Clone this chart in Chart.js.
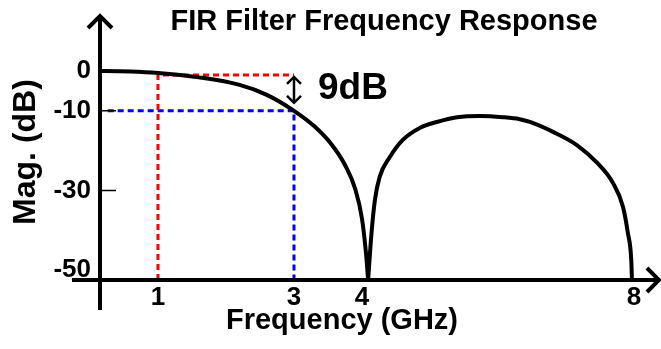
<!DOCTYPE html>
<html>
<head>
<meta charset="utf-8">
<script src="https://cdn.jsdelivr.net/npm/chart.js@4/dist/chart.umd.min.js"></script>
<style>
  html, body { margin: 0; padding: 0; background: #fff; }
</style>
</head>
<body>
<canvas id="fir" width="661" height="349"></canvas>
<script>
// main lobe, DC down to the first null
const mainFreq = [0, 0.59, 1.0, 1.6, 2.2, 2.6, 3.0, 3.3, 3.55, 3.75, 3.9, 4.0, 4.06, 4.09];
const mainDb = [0, -0.13, -0.5, -1.6, -3.5, -6.0, -10, -13.9, -18.4, -23.6, -29.6, -37.1, -46.0, -52.5];

// second lobe between the nulls
const sideFreq = [4.09, 4.14, 4.19, 4.26, 4.41, 4.60, 4.85, 5.10, 5.40, 5.74, 6.07, 6.32, 6.47, 6.81, 7.16, 7.46, 7.69, 7.84, 7.91, 7.96, 7.97];
const sideDb = [-52.5, -40.7, -32.4, -26.6, -21.6, -17.3, -14.3, -12.8, -11.6, -11.3, -11.6, -12.1, -12.8, -15.3, -18.6, -23.1, -28.1, -34.2, -40.7, -47.5, -52.5];

// dashed guides: loss at 1 GHz (red) and at 3 GHz (blue)
const refFreq = [1, 1, 3];
const refDb = [-52.5, -1, -1];
const cutFreq = [0.26, 3, 3];
const cutDb = [-10, -10, -52.5];

const xTicks = [1, 3, 4, 8];
const yTicks = [0, -10, -30, -50];
const markedTicks = [-10, -30];

const FONT = '"Liberation Sans", Arial, sans-serif';

const pts = (xs, ys) => xs.map((x, i) => ({ x, y: ys[i] }));

const decor = {
  id: 'decor',
  afterDatasetsDraw(chart) {
    const { ctx, chartArea: a, scales: { x, y } } = chart;
    ctx.save();
    ctx.strokeStyle = '#000';
    ctx.lineWidth = 4;
    ctx.lineJoin = 'miter';

    // axes, running past the origin
    ctx.beginPath();
    ctx.moveTo(a.left, a.top + 1);
    ctx.lineTo(a.left, a.bottom + 30);
    ctx.moveTo(a.left - 28, a.bottom);
    ctx.lineTo(a.right + 13, a.bottom);
    ctx.stroke();

    // arrow heads
    ctx.beginPath();
    ctx.moveTo(a.left - 12, a.top + 13);
    ctx.lineTo(a.left, a.top + 1);
    ctx.lineTo(a.left + 12, a.top + 13);
    ctx.moveTo(a.right + 2, a.bottom - 12);
    ctx.lineTo(a.right + 14, a.bottom);
    ctx.lineTo(a.right + 2, a.bottom + 12);
    ctx.stroke();

    // short inner tick marks
    ctx.lineWidth = 1.5;
    ctx.beginPath();
    markedTicks.forEach(v => {
      const py = y.getPixelForValue(v);
      ctx.moveTo(a.left, py);
      ctx.lineTo(a.left + 16, py);
    });
    ctx.stroke();

    // double arrow for the 9 dB drop
    const ax = x.getPixelForValue(3);
    const y1 = y.getPixelForValue(-1) + 2;
    const y2 = y.getPixelForValue(-10) - 8;
    ctx.lineWidth = 2.5;
    ctx.beginPath();
    ctx.moveTo(ax, y1);
    ctx.lineTo(ax, y2);
    ctx.moveTo(ax - 7, y1 + 7);
    ctx.lineTo(ax, y1);
    ctx.lineTo(ax + 7, y1 + 7);
    ctx.moveTo(ax - 7, y2 - 7);
    ctx.lineTo(ax, y2);
    ctx.lineTo(ax + 7, y2 - 7);
    ctx.stroke();
    ctx.restore();
  },
  afterDraw(chart) {
    const { ctx, scales: { x } } = chart;
    ctx.save();
    ctx.fillStyle = '#000';
    ctx.textBaseline = 'middle';

    ctx.textAlign = 'center';
    ctx.font = `bold 29px ${FONT}`;
    ctx.fillText('FIR Filter Frequency Response', 384, 22);

    ctx.font = `bold 29px ${FONT}`;
    ctx.fillText('Frequency (GHz)', 342, 321);

    ctx.save();
    ctx.translate(26, 152);
    ctx.rotate(-Math.PI / 2);
    ctx.font = `bold 32px ${FONT}`;
    ctx.fillText('Mag. (dB)', 0, 0);
    ctx.restore();

    ctx.textAlign = 'left';
    ctx.font = `bold 37px ${FONT}`;
    ctx.fillText('9dB', x.getPixelForValue(3) + 24, 89);
    ctx.restore();
  }
};

const tickFont = { family: FONT, size: 26, weight: 'bold' };

new Chart(document.getElementById('fir'), {
  type: 'line',
  data: {
    datasets: [
      { data: pts(mainFreq, mainDb), borderColor: '#000', borderWidth: 4, cubicInterpolationMode: 'monotone', order: 0 },
      { data: pts(sideFreq, sideDb), borderColor: '#000', borderWidth: 4, cubicInterpolationMode: 'monotone', order: 0 },
      { data: pts(refFreq, refDb), borderColor: '#ff0000', borderWidth: 3, borderDash: [6, 4], order: 1 },
      { data: pts(cutFreq, cutDb), borderColor: '#0000ff', borderWidth: 3, borderDash: [6, 4], order: 1 }
    ]
  },
  options: {
    responsive: false,
    animation: false,
    events: [],
    layout: { padding: { top: 15, right: 16, bottom: 0, left: 0 } },
    elements: { point: { radius: 0 } },
    plugins: { legend: { display: false }, tooltip: { enabled: false } },
    scales: {
      x: {
        type: 'linear',
        min: 0.147,
        max: 8.162,
        afterFit: s => { s.height = 69; s.paddingLeft = 0; s.paddingRight = 0; },
        afterBuildTicks: s => { s.ticks = xTicks.map(v => ({ value: v })); },
        grid: { display: false, drawTicks: false },
        border: { display: false },
        ticks: { autoSkip: false, maxRotation: 0, padding: 2, color: '#000', font: tickFont, callback: v => String(v) }
      },
      y: {
        type: 'linear',
        min: -52.5,
        max: 14.07,
        afterFit: s => { s.width = 100; s.paddingTop = 0; s.paddingBottom = 0; },
        afterBuildTicks: s => { s.ticks = yTicks.map(v => ({ value: v })); },
        grid: { display: false, drawTicks: false },
        border: { display: false },
        ticks: { autoSkip: false, padding: 9, color: '#000', font: tickFont, callback: v => String(v) }
      }
    }
  },
  plugins: [decor]
});
</script>
</body>
</html>
